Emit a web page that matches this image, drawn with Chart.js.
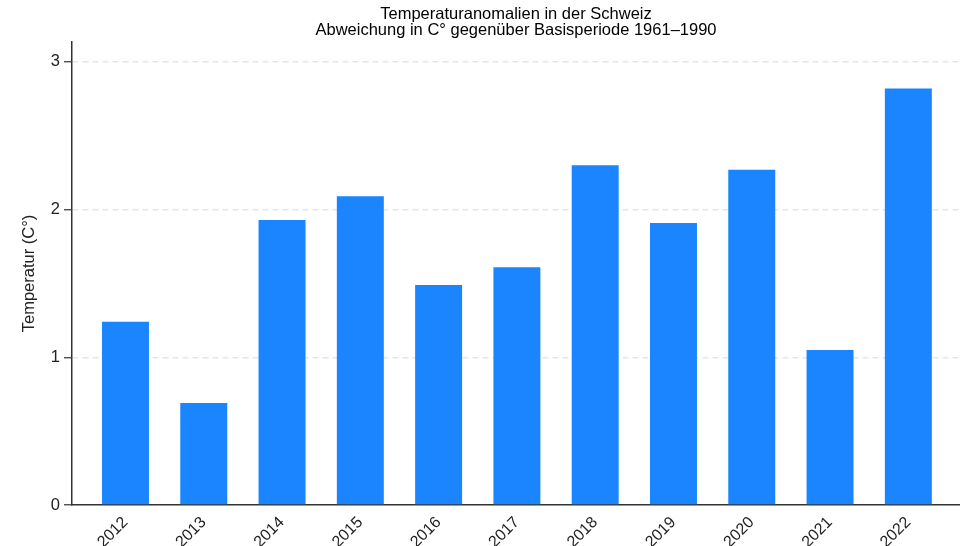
<!DOCTYPE html>
<html><head><meta charset="utf-8">
<script src="https://cdn.jsdelivr.net/npm/chart.js@4/dist/chart.umd.min.js"></script>
<style>html,body{margin:0;padding:0;background:#fff}#wrap{width:960px;height:546px}</style>
</head><body><div id="wrap"><canvas id="c" width="960" height="546"></canvas></div>
<script>
const years = [2012, 2013, 2014, 2015, 2016, 2017, 2018, 2019, 2020, 2021, 2022];
const anomalies = [1.24, 0.69, 1.93, 2.09, 1.49, 1.61, 2.30, 1.91, 2.27, 1.05, 2.82];
const yTicks = [0, 1, 2, 3];
const titleLines = ['Temperaturanomalien in der Schweiz', 'Abweichung in C° gegenüber Basisperiode 1961–1990'];
const yTitle = 'Temperatur (C°)';

const FONT = "'Liberation Sans', Arial, sans-serif";
new Chart(document.getElementById('c'), {
  type: 'bar',
  data: {
    datasets: [{
      data: years.map((y, i) => ({x: y, y: anomalies[i]})),
      backgroundColor: '#1a85ff',
      barPercentage: 1,
      categoryPercentage: 0.6
    }]
  },
  options: {
    responsive: false,
    animation: false,
    devicePixelRatio: 1,
    layout: {padding: {left: 0, right: 0, top: 0, bottom: 0}},
    plugins: {
      legend: {display: false},
      tooltip: {enabled: false},
      title: {
        display: true,
        fullSize: false,
        text: titleLines,
        color: '#000',
        font: {family: FONT, size: 16.5, weight: 'normal', lineHeight: 1.0},
        padding: {top: 6, bottom: 3}
      }
    },
    scales: {
      x: {
        type: 'linear',
        offset: false,
        min: 2011.317,
        max: 2022.66,
        afterBuildTicks: (s) => { s.ticks = years.map(v => ({value: v})); },
        afterFit: (s) => { s.height = 41; },
        ticks: {
          color: '#222',
          font: {family: FONT, size: 16},
          maxRotation: 45, minRotation: 45,
          autoSkip: false,
          padding: 0,
          callback: (v) => String(v)
        },
        grid: {display: false},
        border: {display: true, color: '#333', width: 1.5}
      },
      y: {
        min: 0,
        max: 3.135,
        afterBuildTicks: (s) => { s.ticks = yTicks.map(v => ({value: v})); },
        afterFit: (s) => { s.width = 72; },
        ticks: {
          color: '#222',
          font: {family: FONT, size: 16.5},
          padding: 4,
          callback: (v) => String(v)
        },
        title: {
          display: true,
          text: yTitle,
          color: '#222',
          font: {family: FONT, size: 16.5},
          padding: {top: 20, bottom: 0}
        },
        grid: {
          color: (ctx) => ctx.tick && ctx.tick.value === 0 ? 'rgba(0,0,0,0)' : '#e6e6e6',
          lineWidth: 1.5,
          tickColor: '#333',
          tickLength: 8,
          tickWidth: 1.2
        },
        border: {display: true, color: '#333', width: 1.5, dash: [6, 4]}
      }
    }
  }
});
</script></body></html>
